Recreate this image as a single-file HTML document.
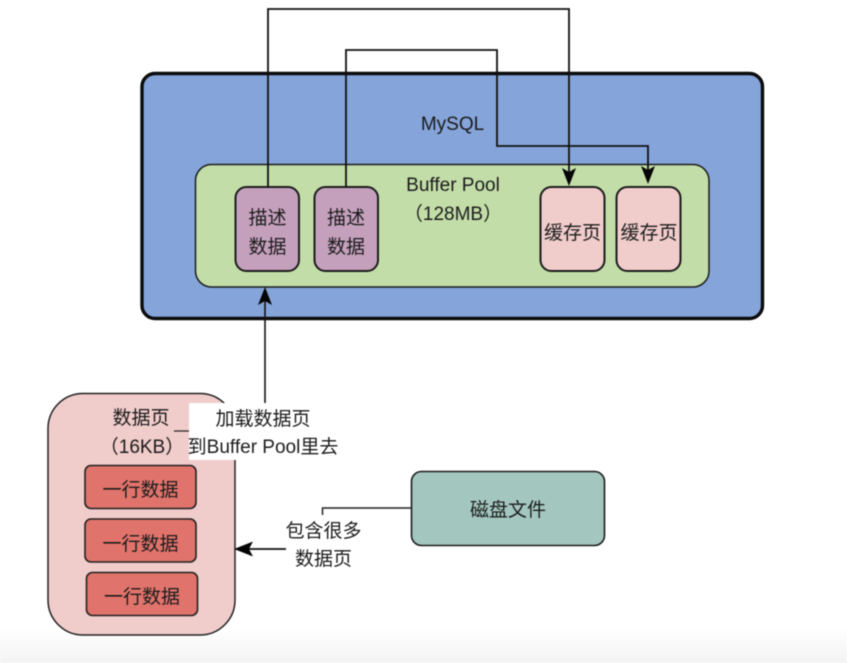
<!DOCTYPE html>
<html>
<head>
<meta charset="utf-8">
<style>
html,body{margin:0;padding:0;background:#fff;width:847px;height:663px;overflow:hidden}
svg{display:block;filter:blur(.55px)}
text{font-family:"Liberation Sans","Noto Sans CJK SC",sans-serif;font-size:19px;fill:#1c1c1c;text-anchor:middle}
</style>
</head>
<body>
<svg width="847" height="663" viewBox="0 0 847 663" xmlns="http://www.w3.org/2000/svg">
<defs>
<linearGradient id="g" x1="0" y1="0" x2="0" y2="1"><stop offset="0" stop-color="#fff"/><stop offset="1" stop-color="#f3f3f3"/></linearGradient>
</defs>
<rect x="0" y="628" width="847" height="35" fill="url(#g)"/>

<!-- MySQL -->
<rect x="142" y="73.500" width="620.500" height="245" rx="13" fill="#85a4da" stroke="#0c0c0c" stroke-width="3.400"/>
<text x="452.500" y="130">MySQL</text>

<!-- Buffer pool -->
<rect x="195.500" y="164.500" width="513.500" height="122.500" rx="16" fill="#c2dda8" stroke="#1c1c1c" stroke-width="1.500"/>
<text x="453" y="191">Buffer Pool</text>
<text x="453" y="220">（128MB）</text>

<!-- Descriptor -->
<rect x="235.500" y="187" width="63.500" height="84" rx="11" fill="#c4a0bc" stroke="#1c1c1c" stroke-width="2"/>
<text x="267.500" y="224">描述</text>
<text x="267.500" y="253">数据</text>
<rect x="314.500" y="187" width="63.500" height="84" rx="11" fill="#c4a0bc" stroke="#1c1c1c" stroke-width="2"/>
<text x="346" y="224">描述</text>
<text x="346" y="253">数据</text>

<!-- Cache -->
<rect x="540.500" y="187" width="64" height="84" rx="11" fill="#f0cccb" stroke="#1c1c1c" stroke-width="2"/>
<text x="572.500" y="239">缓存页</text>
<rect x="616.500" y="187" width="64" height="84" rx="11" fill="#f0cccb" stroke="#1c1c1c" stroke-width="2"/>
<text x="649" y="239">缓存页</text>

<!-- Connectors -->
<path d="M268 187V9H569V175" fill="none" stroke="#111" stroke-width="1.800"/>
<path d="M346 187V50H497V146H648V175" fill="none" stroke="#111" stroke-width="1.800"/>
<path d="M569 186L562 168L569 172L576 168Z" fill="#050505"/>
<path d="M648 184L641 166L648 170L655 166Z" fill="#050505"/>

<!-- Data page -->
<rect x="48" y="393.500" width="187" height="241.500" rx="35" fill="#f0cccb" stroke="#222" stroke-width="1.500"/>
<rect x="189" y="403" width="48" height="57" fill="#fff"/>
<path d="M174 431H189" stroke="#222" stroke-width="1.200"/>
<text x="141" y="424">数据页</text>
<text x="142" y="453">（16KB）</text>

<rect x="85" y="465.500" width="111" height="43" rx="6" fill="#e0736b" stroke="#222" stroke-width="1.600"/>
<text x="140.500" y="496">一行数据</text>
<rect x="85" y="519" width="111" height="43" rx="6" fill="#e0736b" stroke="#222" stroke-width="1.600"/>
<text x="140.500" y="550">一行数据</text>
<rect x="86.500" y="572.500" width="111" height="43" rx="6" fill="#e0736b" stroke="#222" stroke-width="1.600"/>
<text x="142" y="603">一行数据</text>

<!-- Load arrow -->
<path d="M265 403V298" stroke="#111" stroke-width="1.600"/>
<path d="M265 287L258 305L265 301L272 305Z" fill="#050505"/>
<text x="263" y="425">加载数据页</text>
<text x="263" y="453">到Buffer Pool里去</text>

<!-- Disk -->
<rect x="411.500" y="471.500" width="193" height="74" rx="10" fill="#a3c6bf" stroke="#1c1c1c" stroke-width="1.600"/>
<text x="508" y="516">磁盘文件</text>
<path d="M411 508H322.500V515" fill="none" stroke="#222" stroke-width="1.500"/>
<text x="323.500" y="537">包含很多</text>
<text x="323.500" y="565">数据页</text>
<path d="M286 549H246" stroke="#111" stroke-width="1.800"/>
<path d="M234 549L253 541.500L249 549L253 556.500Z" fill="#050505"/>
</svg>
</body>
</html>
